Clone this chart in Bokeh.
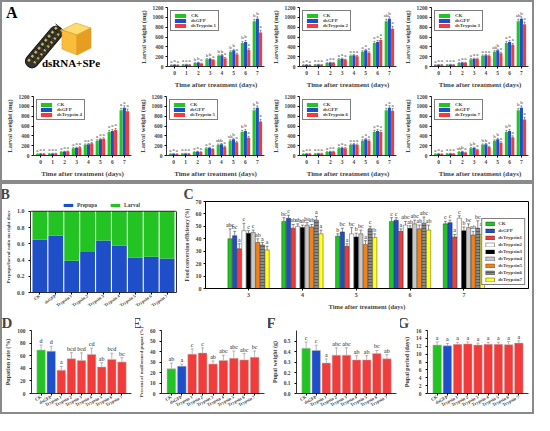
from bokeh.plotting import figure
from bokeh.models import (ColumnDataSource, Range1d, FactorRange, Legend, LegendItem,
                          Whisker, TeeHead, FixedTicker, SingleIntervalTicker,
                          NumeralTickFormatter, Div, LinearAxis, Span)
from bokeh.layouts import row, column
from bokeh.core.properties import value
from bokeh.embed import file_html
from bokeh.resources import INLINE

FONT = "Liberation Serif"
GREEN = "#22c322"
BLUE = "#1f4fc8"
RED = "#f23b3b"

# ---------------- Panel A data ----------------
days = [0, 1, 2, 3, 4, 5, 6, 7]
ck_weight = [30, 35, 70, 150, 220, 300, 480, 920]
gfp_weight = [35, 40, 80, 160, 230, 330, 500, 970]
ck_weight_err = [6, 6, 8, 10, 14, 20, 30, 40]
gfp_weight_err = [6, 6, 8, 10, 14, 20, 30, 40]
ds_weight_err = [6, 6, 8, 10, 14, 20, 30, 45]
trypsin1_weight = [30, 35, 60, 130, 170, 250, 340, 690]
trypsin2_weight = [30, 35, 75, 140, 210, 280, 540, 770]
trypsin3_weight = [35, 35, 75, 160, 220, 270, 440, 860]
trypsin4_weight = [35, 40, 85, 170, 250, 340, 520, 900]
trypsin5_weight = [30, 35, 70, 130, 180, 270, 360, 690]
trypsin6_weight = [35, 40, 80, 150, 220, 300, 480, 910]
trypsin7_weight = [30, 35, 60, 120, 175, 260, 370, 730]
letters_t1 = ["a a a", "a a a", "b b a", "b b a", "b b a", "b b a", "b b a", "b b a"]
letters_t2 = ["a a a", "a a a", "a a a", "a a a", "a a a", "a a a", "a a a", "ab b a"]
letters_t3 = ["a a a", "a a a", "a a a", "a a a", "a a a", "ab b a", "a a a", "ab b a"]
letters_t4 = ["a a a", "a a a", "a a a", "a a a", "a a a", "a a a", "a a a", "a a a"]
letters_t5 = ["a a a", "a a a", "a a a", "a a a", "ab b a", "ab b a", "b b a", "b b a"]
letters_t6 = ["a a a", "a a a", "a a a", "a a a", "a a a", "a a a", "a a a", "a a a"]
letters_t7 = ["a a a", "a a a", "ab b a", "b b a", "b b a", "b b a", "b b a", "b b a"]
weight_ticks = [0, 200, 400, 600, 800, 1000, 1200]

# ---------------- Panel B data ----------------
strains = ["CK", "dsGFP", "Trypsin 1", "Trypsin 2", "Trypsin 3", "Trypsin 4",
           "Trypsin 5", "Trypsin 6", "Trypsin 7"]
prepupa_ratio = [0.65, 0.70, 0.39, 0.50, 0.64, 0.58, 0.43, 0.44, 0.42]
larval_ratio = [0.35, 0.30, 0.61, 0.50, 0.36, 0.42, 0.57, 0.56, 0.58]

# ---------------- Panel C data ----------------
fce_days = [3, 4, 5, 6, 7]
fce_names = ["CK", "dsGFP", "dsTrypsin1", "dsTrypsin2", "dsTrypsin3",
             "dsTrypsin4", "dsTrypsin5", "dsTrypsin6", "dsTrypsin7"]
fce_ck = [40, 54, 42, 54, 52]
fce_gfp = [42.5, 56.5, 45.5, 55, 53]
fce_t1 = [32, 48.5, 34, 46, 41.5]
fce_t2 = [46.5, 50, 44, 51, 56.5]
fce_t3 = [44.5, 49, 41.5, 48.5, 46.5]
fce_t4 = [45, 51, 44, 52, 49]
fce_t5 = [37, 49.5, 35.5, 48, 43]
fce_t6 = [35, 55, 48, 52.5, 48.5]
fce_t7 = [31, 44, 41, 47, 43.5]
fce_ck_err = [8, 3, 2, 3, 2]
fce_gfp_err = [3.5, 2.5, 3, 2, 2]
fce_t1_err = [4, 3, 2, 2, 2]
fce_t2_err = [6, 2, 5, 3, 2]
fce_t3_err = [2, 2, 3, 2, 3]
fce_t4_err = [2, 2, 3, 3, 3]
fce_t5_err = [3, 2, 3, 3, 3]
fce_t6_err = [2, 3, 2, 5, 6]
fce_t7_err = [3, 3, 3, 4, 5]
fce_letters_ck = ["abc", "bc", "b", "c", "c"]
fce_letters_gfp = ["bc", "c", "bc", "c", "c"]
fce_letters_t1 = ["a", "ab", "a", "a", "a"]
fce_letters_t2 = ["c", "ab", "bc", "abc", "c"]
fce_letters_t3 = ["c", "ab", "b", "ab", "b"]
fce_letters_t4 = ["c", "bc", "bc", "abc", "bc"]
fce_letters_t5 = ["ab", "ab", "a", "ab", "ab"]
fce_letters_t6 = ["a", "a", "c", "abc", "bc"]
fce_letters_t7 = ["a", "a", "b", "ab", "ab"]
fce_ticks = [0, 10, 20, 30, 40, 50, 60, 70]

# ---------------- Panels D-G data ----------------
pupation_rate = [69, 67, 37, 55, 52.5, 62, 42, 54, 50]
pupation_err = [8, 8, 6, 10, 12, 10, 7, 10, 7]
pupation_letters = ["d", "d", "a", "bcd", "bcd", "cd", "ab", "bcd", "bc"]
malformed_pct = [23.5, 26, 37.5, 38.5, 28, 31.5, 33.5, 32, 34.5]
malformed_err = [5.5, 2, 5, 5, 3, 5, 7, 6, 6]
malformed_letters = ["ab", "a", "c", "c", "ab", "abc", "abc", "abc", "bc"]
pupal_weight = [0.43, 0.41, 0.29, 0.365, 0.365, 0.32, 0.32, 0.38, 0.33]
pupal_weight_err = [0.06, 0.05, 0.04, 0.07, 0.07, 0.04, 0.04, 0.03, 0.04]
pupal_weight_letters = ["c", "c", "a", "abc", "abc", "ab", "ab", "bc", "ab"]
pupal_period = [12.3, 12.1, 12.5, 12.6, 12.3, 12.5, 12.5, 12.4, 12.8]
pupal_period_err = [0.8, 0.6, 0.5, 0.5, 0.5, 0.5, 0.5, 0.8, 0.6]
pupal_period_letters = ["a"] * 9


def style(p, tick_size="6px", label_size="7px", outline=False, ylabel_size=None):
    for ax in p.axis:
        ax.major_label_text_font = FONT
        ax.major_label_text_font_style = "bold"
        ax.major_label_text_font_size = tick_size
        ax.axis_label_text_font = FONT
        ax.axis_label_text_font_style = "bold"
        ax.axis_label_text_font_size = label_size
        ax.minor_tick_line_color = None
        ax.major_tick_out = 2
        ax.major_tick_in = 0
        ax.axis_label_standoff = 3
        ax.major_label_standoff = 2
        ax.axis_line_width = 0.8
    if ylabel_size:
        p.yaxis.axis_label_text_font_size = ylabel_size
    p.xgrid.visible = False
    p.ygrid.visible = False
    p.outline_line_color = "black" if outline else None
    p.background_fill_color = "white"
    p.border_fill_color = "white"


def panel_title(p, letter, offset, size="15px"):
    p.title.text = letter
    p.title.text_font = FONT
    p.title.text_font_style = "bold"
    p.title.text_font_size = size
    p.title.align = "left"
    p.title.offset = offset
    p.title.standoff = 0


def base_fig(w, h, **kw):
    return figure(width=w, height=h, output_backend="svg", toolbar_location=None,
                  min_border_left=2, min_border_right=4, min_border_top=5,
                  min_border_bottom=2, frame_align=False, **kw)


def weight_chart(ds_vals, letters, name, w, h):
    p = base_fig(w, h, x_range=Range1d(-0.6, 7.6), y_range=Range1d(0, 1200))
    offs = [-0.27, 0.0, 0.27]
    series = [(ck_weight, ck_weight_err, GREEN, "CK"),
              (gfp_weight, gfp_weight_err, BLUE, "dsGFP"),
              (ds_vals, ds_weight_err, RED, name)]
    items = []
    for k, (vals, errs, col, lab) in enumerate(series):
        src = ColumnDataSource(dict(
            x=[d + offs[k] for d in days], top=vals,
            upper=[v + e for v, e in zip(vals, errs)],
            lab=[l.split()[k] for l in letters]))
        r = p.vbar(x="x", top="top", width=0.26, source=src, fill_color=col, line_color=None)
        p.add_layout(Whisker(source=src, base="x", upper="upper", lower="top",
                             line_color="#555", line_width=0.6,
                             upper_head=TeeHead(size=2, line_width=0.6, line_color="#555"),
                             lower_head=None))
        p.text(x="x", y="upper", text="lab", source=src, text_font=value(FONT),
               text_font_size="5px", text_align="center", text_baseline="bottom",
               y_offset=-1, text_color="#333")
        items.append(LegendItem(label=lab, renderers=[r]))
    leg = Legend(items=items, location="top_left", label_text_font=FONT,
                 label_text_font_style="bold", label_text_font_size="5px",
                 glyph_width=14, glyph_height=5, label_height=5, spacing=0,
                 padding=2, margin=3, label_standoff=4,
                 border_line_color="black", border_line_width=0.7)
    p.add_layout(leg)
    p.xaxis.ticker = FixedTicker(ticks=days)
    p.yaxis.ticker = FixedTicker(ticks=weight_ticks)
    p.xaxis.axis_label = "Time after treatment (days)"
    p.yaxis.axis_label = "Larval weight (mg)"
    style(p, tick_size="5.5px", label_size="7px", ylabel_size="6.5px")
    return p


# ---------------- Illustration (decorative, inline SVG) ----------------
SERIF = "font-family:'Liberation Serif',serif;font-weight:bold"
spots = []
for i in range(9):
    sx = -21 + i * 5.2
    spots.append(f'<rect x="{sx:.1f}" y="-4.2" width="2.6" height="2.4" fill="#c9b46c"/>')
    spots.append(f'<rect x="{sx + 2.4:.1f}" y="1.6" width="2.6" height="2.4" fill="#c9b46c"/>')
    spots.append(f'<line x1="{sx + 4.6:.1f}" y1="-6" x2="{sx + 4.6:.1f}" y2="6" '
                 f'stroke="#17170f" stroke-width="0.8"/>')
ill_svg = (
    '<svg xmlns="http://www.w3.org/2000/svg" width="134" height="89">'
    f'<text x="4" y="16" style="{SERIF};font-size:16px">A</text>'
    '<g transform="translate(42,45) rotate(-50)">'
    '<rect x="-25" y="-6.5" width="50" height="13" rx="6" fill="#35352b" '
    'stroke="#15150f" stroke-width="1"/>' + "".join(spots) + '</g>'
    '<polygon points="60,28 74,21 89,26 75,33" fill="#ffdc70" stroke="#d99a25" stroke-width="0.6"/>'
    '<polygon points="60,28 75,33 75,53 60,47" fill="#f8bd3c" stroke="#d99a25" stroke-width="0.6"/>'
    '<polygon points="75,33 89,26 89,46 75,53" fill="#e69d22" stroke="#d99a25" stroke-width="0.6"/>'
    f'<text x="69" y="65" text-anchor="middle" style="{SERIF};font-size:11px">dsRNA+SPe</text>'
    '</svg>'
)
ill = Div(text=ill_svg, width=134, height=89, margin=0)

a1 = weight_chart(trypsin1_weight, letters_t1, "dsTrypsin 1", 132, 89)
a2 = weight_chart(trypsin2_weight, letters_t2, "dsTrypsin 2", 132, 89)
a3 = weight_chart(trypsin3_weight, letters_t3, "dsTrypsin 3", 132, 89)
a4 = weight_chart(trypsin4_weight, letters_t4, "dsTrypsin 4", 133, 89)
a5 = weight_chart(trypsin5_weight, letters_t5, "dsTrypsin 5", 133, 89)
a6 = weight_chart(trypsin6_weight, letters_t6, "dsTrypsin 6", 132, 89)
a7 = weight_chart(trypsin7_weight, letters_t7, "dsTrypsin 7", 132, 89)

# ---------------- Panel B ----------------
srcb = ColumnDataSource(dict(x=strains, prepupa=prepupa_ratio, larval=larval_ratio))
pb = base_fig(178, 128, x_range=FactorRange(factors=strains, range_padding=0.02),
              y_range=Range1d(0, 1.12))
rb = pb.vbar_stack(["prepupa", "larval"], x="x", width=0.93, source=srcb,
                   fill_color=[BLUE, GREEN], line_color=None)
legb = Legend(items=[LegendItem(label="Prepupa", renderers=[rb[0]]),
                     LegendItem(label="Larval", renderers=[rb[1]])],
              orientation="horizontal", location="top_center", label_text_font=FONT,
              label_text_font_style="bold", label_text_font_size="5.5px",
              glyph_width=12, glyph_height=4, label_height=5, padding=0, margin=1,
              spacing=12, label_standoff=3, border_line_color=None,
              background_fill_alpha=0)
pb.add_layout(legb)
pb.yaxis.ticker = SingleIntervalTicker(interval=0.2)
pb.yaxis.formatter = NumeralTickFormatter(format="0.0")
pb.yaxis.bounds = (0, 1.0)
pb.yaxis.axis_label = "Prepupa/larval ratio on eight days"
style(pb, tick_size="6px", label_size="5px", outline=False)
pb.add_layout(LinearAxis(bounds=(0, 1.0), ticker=FixedTicker(ticks=[]),
                         axis_line_width=0.8, minor_tick_line_color=None), "right")
pb.add_layout(Span(location=1.0, dimension="width", line_color="black", line_width=0.8))
pb.xaxis.major_label_orientation = 0.6
pb.xaxis.major_label_text_font_size = "4.5px"
pb.xaxis.major_label_standoff = 1
panel_title(pb, "B", -30, size="14px")

# ---------------- Panel C ----------------
pc = base_fig(352, 128, x_range=Range1d(2.2, 8.2), y_range=Range1d(0, 70))
pc.min_border_top = 2
fce_series = [
    (fce_ck, fce_ck_err, fce_letters_ck, GREEN, None),
    (fce_gfp, fce_gfp_err, fce_letters_gfp, BLUE, None),
    (fce_t1, fce_t1_err, fce_letters_t1, RED, None),
    (fce_t2, fce_t2_err, fce_letters_t2, "white", None),
    (fce_t3, fce_t3_err, fce_letters_t3, "black", None),
    (fce_t4, fce_t4_err, fce_letters_t4, "#c8c8c8", None),
    (fce_t5, fce_t5_err, fce_letters_t5, "#f08218", None),
    (fce_t6, fce_t6_err, fce_letters_t6, "#8a8a8a", "-"),
    (fce_t7, fce_t7_err, fce_letters_t7, "#ffff20", None),
]
c_items = []
for k, (vals, errs, lets, col, hatch) in enumerate(fce_series):
    src = ColumnDataSource(dict(x=[d + (k - 4) * 0.086 for d in fce_days], top=vals,
                                upper=[v + e for v, e in zip(vals, errs)], lab=lets))
    kw = dict(hatch_pattern=hatch, hatch_color="#3c3c3c", hatch_scale=3,
              hatch_weight=0.6) if hatch else {}
    r = pc.vbar(x="x", top="top", width=0.08, source=src, fill_color=col,
                line_color="#222", line_width=0.4, **kw)
    pc.add_layout(Whisker(source=src, base="x", upper="upper", lower="top",
                          line_color="#444", line_width=0.6,
                          upper_head=TeeHead(size=3, line_width=0.6, line_color="#444"),
                          lower_head=None))
    pc.text(x="x", y="upper", text="lab", source=src, text_font=value(FONT),
            text_font_size="6px", text_align="center", text_baseline="bottom",
            y_offset=-1, text_color="#222")
    c_items.append(LegendItem(label=fce_names[k], renderers=[r]))
legc = Legend(items=c_items, location="bottom_right", label_text_font=FONT,
              label_text_font_style="bold", label_text_font_size="5px",
              glyph_width=11, glyph_height=5, label_height=5, spacing=2,
              padding=2, margin=3, label_standoff=3,
              border_line_color="black", border_line_width=0.7)
pc.add_layout(legc)
pc.xaxis.ticker = FixedTicker(ticks=fce_days)
pc.yaxis.ticker = FixedTicker(ticks=fce_ticks)
pc.xaxis.axis_label = "Time after treatment (days)"
pc.yaxis.axis_label = "Food conversion efficiency (%)"
style(pc, tick_size="6px", label_size="6.5px", outline=True, ylabel_size="5.5px")
panel_title(pc, "C", -22, size="14px")


# ---------------- Panels D-G ----------------
def strain_chart(letter, vals, errs, lets, ymax, interval, ylabel, fmt, w, h,
                 ylabel_size="6px"):
    p = base_fig(w, h, x_range=FactorRange(factors=strains, range_padding=0.1),
                 y_range=Range1d(0, ymax))
    src = ColumnDataSource(dict(x=strains, top=vals,
                                upper=[v + e for v, e in zip(vals, errs)], lab=lets,
                                col=[GREEN, BLUE] + [RED] * 7))
    p.vbar(x="x", top="top", width=0.84, source=src, fill_color="col",
           line_color="#bbbbbb", line_width=0.5)
    p.add_layout(Whisker(source=src, base="x", upper="upper", lower="top",
                         line_color="#888", line_width=0.6,
                         upper_head=TeeHead(size=3, line_width=0.6, line_color="#888"),
                         lower_head=None))
    p.text(x="x", y="upper", text="lab", source=src, text_font=value(FONT),
           text_font_size="6px", text_align="center", text_baseline="bottom",
           y_offset=-1, text_color="#222")
    p.yaxis.ticker = SingleIntervalTicker(interval=interval)
    if fmt:
        p.yaxis.formatter = NumeralTickFormatter(format=fmt)
    p.yaxis.axis_label = ylabel
    style(p, tick_size="5.5px", label_size=ylabel_size)
    p.xaxis.major_label_orientation = 0.5
    p.xaxis.major_label_text_font_size = "4.5px"
    p.xaxis.major_label_standoff = 1
    panel_title(p, letter, -30)
    return p


pd_ = strain_chart("D", pupation_rate, pupation_err, pupation_letters, 100, 20,
                   "Pupation rate (%)", None, 133, 100)
pe = strain_chart("E", malformed_pct, malformed_err, malformed_letters, 60, 10,
                  "Percent of malformed pupae (%)", None, 133, 100, ylabel_size="5px")
pf = strain_chart("F", pupal_weight, pupal_weight_err, pupal_weight_letters, 0.6, 0.1,
                  "Pupal weight (g)", "0.0", 132, 100)
pg = strain_chart("G", pupal_period, pupal_period_err, pupal_period_letters, 16, 2,
                  "Pupal period (days)", None, 132, 100)

box = {"border": "2px solid #8a8a8a", "background-color": "white"}
panel_a = column(row(ill, a1, a2, a3), row(a4, a5, a6, a7), styles=box)
panel_bg = column(row(pb, pc), row(pd_, pe, pf, pg), styles=box)
layout = column(panel_a, panel_bg)

open("out.html", "w").write(file_html(layout, INLINE))
